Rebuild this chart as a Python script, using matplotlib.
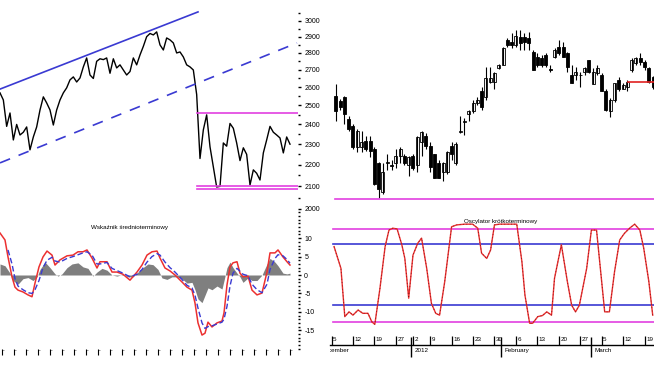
import numpy as np
import matplotlib
matplotlib.use('Agg')
import matplotlib.pyplot as plt
from matplotlib.ticker import FixedLocator, MultipleLocator, NullFormatter
from matplotlib.transforms import Bbox, TransformedBbox

plt.rcParams['font.family'] = ['Liberation Sans', 'DejaVu Sans']

# ---- left: index line chart (close, sampled every few sessions) ----
PRICE = [2569, 2530, 2390, 2460, 2321, 2400, 2346, 2360, 2387, 2272,
         2336, 2387, 2476, 2547, 2514, 2476, 2397, 2476, 2530, 2569,
         2597, 2642, 2659, 2630, 2653, 2717, 2770, 2670, 2650, 2750,
         2765, 2760, 2770, 2680, 2765, 2711, 2729, 2699, 2670, 2690,
         2770, 2729, 2788, 2840, 2900, 2920, 2911, 2930, 2849, 2818,
         2892, 2880, 2861, 2800, 2806, 2776, 2729, 2717, 2699, 2560,
         2230, 2372, 2450, 2287, 2190, 2097, 2100, 2306, 2290, 2405,
         2380, 2306, 2220, 2282, 2250, 2106, 2176, 2160, 2129, 2257,
         2321, 2390, 2360, 2346, 2331, 2257, 2336, 2300]
CHANNEL_UP_DAY = [0, 198]
CHANNEL_UP = [2590, 3059]
CHANNEL_LO_DAY = [0, 297]
CHANNEL_LO = [2209, 2861]
RANGE_DAY = [197, 298]
RANGE_TOP = 2460
RANGE_BOTTOM = [2102, 2086]
PRICE_TICKS = [2000, 2100, 2200, 2300, 2400, 2500, 2600, 2700, 2800, 2900, 3000]

# ---- left: medium-term indicator ----
MACD_DAY = [0, 5, 8, 12, 15, 18, 23, 28, 32, 35, 39, 43, 47, 52, 55, 60, 67, 73, 78, 83,
            87, 92, 97, 100, 107, 112, 117, 123, 130, 137, 142, 147, 152, 157, 160, 165, 170, 175, 182, 187,
            192, 195, 198, 202, 205, 208, 212, 217, 222, 224, 227, 230, 233, 237, 240, 243, 248, 252, 257, 262,
            267, 270, 275, 278, 283, 287, 290]
MACD = [11.4, 9.5, 4.9, -0.5, -3.3, -4.1, -4.6, -5.4, -5.9, -2.2,
        2.2, 4.9, 6.5, 5.4, 2.7, 4.1, 5.2, 5.4, 6.3, 6.3,
        6.8, 4.6, 1.9, 3.6, 3.6, 0.8, 0.8, 0.2, -1.4, 0.8,
        2.7, 5.4, 6.3, 6.5, 4.6, 1.9, 1.1, 0.0, -1.9, -3.3,
        -4.1, -7.6, -13.0, -16.3, -15.8, -12.8, -14.1, -13.0, -12.5, -10.3,
        -2.7, 2.2, 3.3, 3.6, 0.5, -0.5, -0.3, -4.1, -5.4, -4.9,
        0.8, 6.0, 6.0, 6.8, 4.9, 3.6, 2.7]
SIGNAL = [np.nan, np.nan, 6.8, 3.0, -1.0, -3.0, -4.0, -4.8, -5.0, -4.0,
          -1.5, 2.0, 4.0, 4.8, 3.8, 3.5, 4.5, 5.0, 5.5, 6.0,
          6.3, 5.4, 3.0, 3.0, 3.4, 1.8, 1.2, 0.5, -0.5, 0.2,
          1.5, 3.5, 5.0, 5.8, 5.4, 3.5, 2.0, 0.8, -1.2, -2.8,
          -3.5, -5.5, -9.0, -13.0, -14.5, -14.0, -13.8, -13.3, -12.8, -12.0,
          -8.5, -3.0, 0.5, 1.8, 1.0, 0.2, -0.2, -2.5, -4.0, -4.8,
          -2.5, 1.5, 4.5, 5.5, 5.2, 4.2, 3.2]
HIST_DAY = [0, 5, 10, 13, 18, 23, 28, 33, 37, 40, 45, 50, 55, 58, 62, 67, 72, 78, 83, 88,
            93, 97, 102, 107, 112, 117, 123, 128, 133, 138, 143, 148, 153, 158, 162, 167, 172, 177, 182, 187,
            192, 195, 198, 202, 205, 208, 212, 217, 222, 224, 227, 230, 233, 237, 240, 243, 248, 252, 257, 262,
            267, 270, 275, 278, 283, 287, 290]
HIST = [3.0, 2.5, 0.5, -1.5, -2.5, -1.0, -0.7, -1.5, -0.5, 1.5,
        3.5, 2.0, 0.3, -0.3, 0.3, 2.0, 3.0, 3.3, 2.2, 1.8,
        -0.3, 0.8, 1.8, 1.3, 0.0, -0.3, 0.2, -0.5, -0.5, 0.8,
        2.0, 3.0, 2.8, 1.5, -0.8, -1.2, -0.5, -0.5, -1.0, -2.2,
        -2.0, -4.0, -6.5, -7.5, -5.5, -3.5, -4.0, -3.0, -3.8, -1.5,
        2.0, 3.5, 2.0, 0.5, -0.5, -2.0, -0.8, -1.5, -1.5, 0.0,
        3.0, 4.5, 3.5, 2.5, 0.5, 0.3, 0.5]
IND_TICKS = [10, 5, 0, -5, -10, -15]

# ---- right: daily candles Dec 2011 - Mar 2012 ----
OPEN = [2550, 2522, 2545, 2426, 2390, 2285, 2285, 2315, 2315, 2275,
        2210, 2073, 2208, 2200, 2210, 2240, 2240, 2200, 2240, 2200,
        2310, 2340, 2290, 2250, 2210, 2164, 2164, 2290, 2210, 2360,
        2415, 2452, 2468, 2514, 2578, 2545, 2630, 2630, 2711, 2729,
        2880, 2867, 2850, 2895, 2895, 2893, 2806, 2776, 2770, 2788,
        2702, 2776, 2836, 2836, 2800, 2670, 2670, 2672, 2688, 2758,
        2617, 2683, 2670, 2578, 2468, 2530, 2642, 2590, 2600, 2700,
        2740, 2770, 2746, 2711, 2659]
HIGH = [2617, 2533, 2550, 2442, 2400, 2374, 2365, 2340, 2340, 2285,
        2212, 2210, 2250, 2225, 2275, 2285, 2250, 2240, 2250, 2340,
        2365, 2355, 2310, 2250, 2225, 2215, 2265, 2310, 2310, 2442,
        2436, 2476, 2530, 2545, 2600, 2717, 2717, 2688, 2735, 2836,
        2892, 2923, 2940, 2940, 2920, 2930, 2818, 2800, 2788, 2800,
        2729, 2830, 2880, 2867, 2806, 2729, 2717, 2688, 2717, 2758,
        2711, 2729, 2683, 2590, 2540, 2625, 2659, 2625, 2642, 2770,
        2776, 2800, 2758, 2717, 2665]
LOW = [2416, 2478, 2400, 2365, 2275, 2260, 2260, 2265, 2235, 2105,
       2050, 2064, 2176, 2176, 2186, 2210, 2200, 2146, 2176, 2164,
       2240, 2275, 2168, 2136, 2136, 2123, 2155, 2225, 2200, 2355,
       2346, 2416, 2462, 2500, 2478, 2530, 2625, 2590, 2705, 2729,
       2836, 2830, 2836, 2818, 2818, 2818, 2700, 2717, 2717, 2717,
       2690, 2770, 2788, 2776, 2688, 2625, 2642, 2600, 2670, 2683,
       2617, 2670, 2578, 2468, 2440, 2520, 2578, 2590, 2578, 2688,
       2729, 2729, 2700, 2625, 2590]
CLOSE = [2468, 2494, 2452, 2374, 2285, 2365, 2310, 2275, 2265, 2110,
         2086, 2168, 2212, 2195, 2240, 2275, 2210, 2235, 2186, 2335,
         2360, 2290, 2190, 2140, 2140, 2210, 2260, 2250, 2300, 2368,
         2418, 2470, 2516, 2530, 2490, 2653, 2653, 2683, 2729, 2830,
         2850, 2850, 2905, 2860, 2867, 2862, 2700, 2730, 2730, 2730,
         2698, 2818, 2800, 2776, 2717, 2625, 2688, 2668, 2711, 2688,
         2688, 2711, 2578, 2478, 2530, 2625, 2590, 2615, 2630, 2758,
         2770, 2746, 2717, 2630, 2600]
SUPPORT = 2043
RESIST_DAY = [68.2, 75]
RESIST = 2630

# ---- right: short-term oscillator ----
OSC_DAY = [-0.4, 1.2, 2.1, 3.1, 4.0, 5.2, 6.3, 7.5, 8.4, 9.1,
           10.3, 11.5, 12.4, 13.3, 14.3, 15.4, 16.1, 17.0, 18.0, 19.1,
           20.0, 21.2, 22.3, 23.3, 24.2, 25.4, 27.0, 28.2, 30.1, 31.9,
           33.1, 34.0, 35.2, 36.1, 37.0, 38.2, 40.1, 42.2, 43.4, 44.1,
           45.2, 45.9, 47.1, 48.2, 49.2, 50.3, 51.0, 52.6, 54.0, 55.0,
           55.9, 56.8, 58.5, 59.6, 60.8, 62.0, 62.7, 63.8, 65.0, 66.2,
           67.3, 68.5, 69.7, 70.9, 71.8, 73.0, 73.9]
OSC = [7.7, 1.8, -11.3, -10.0, -10.9, -9.5, -10.4, -10.4, -12.7, -13.4,
       -3.6, 7.7, 12.2, 12.7, 12.5, 8.2, 4.5, -6.3, 5.4, 8.6,
       10.0, 1.8, -7.7, -10.4, -10.9, -1.8, 13.1, 13.6, 13.8, 13.8,
       12.7, 5.9, 4.5, 6.8, 13.6, 13.8, 13.8, 13.8, 3.6, -5.4,
       -13.1, -13.1, -11.3, -11.0, -10.0, -10.9, -0.9, 8.2, -1.8, -8.2,
       -10.0, -8.2, 1.8, 12.2, 12.2, -1.8, -10.0, -10.0, 0.9, 9.5,
       11.3, 12.7, 13.8, 12.2, 7.3, -1.8, -10.9]
OSC_OUTER = [12.5, -12.7]
OSC_INNER = [8.3, -8.2]
DATE_POS = [-1, 4, 9, 14, 18, 22, 27, 32, 37, 42, 47, 52, 57, 62, 67, 72]
DATE_LABELS = ['5', '12', '19', '27', '2', '9', '16', '23', '30',
               '6', '13', '20', '27', '5', '12', '19']
MONTH_BOUND = [-4.5, 17.5, 38.5, 59.5]
MONTH_LABELS = ['December', '2012', 'February', 'March']

BLUE = '#3a3ad2'
MAGENTA = '#e23fe0'
RED = '#ec3030'
W, H = 654, 368

fig = plt.figure(figsize=(W / 100, H / 100), dpi=100)


def px_axes(x0, y0, x1, y1):
    ax = fig.add_axes([x0 / W, 1 - y1 / H, (x1 - x0) / W, (y1 - y0) / H])
    for s in ax.spines.values():
        s.set_visible(False)
    return ax


ax_price = px_axes(0, 5, 298, 212)
ax_ind = px_axes(0, 212, 298, 352)
ax_cndl = px_axes(330, 5, 654, 212)
ax_osc = px_axes(330, 212, 654, 345)

# price line
ax_price.set_yscale('log')
days = np.linspace(0, 290, len(PRICE))
ax_price.plot(days, PRICE, color='black', lw=1.0)
ax_price.plot(CHANNEL_UP_DAY, CHANNEL_UP, color=BLUE, lw=1.2)
ax_price.plot(CHANNEL_LO_DAY, CHANNEL_LO, color=BLUE, lw=1.2, linestyle=(0, (6.5, 5.5)))
ax_price.plot(RANGE_DAY, [RANGE_TOP] * 2, color=MAGENTA, lw=1.2)
for lvl in RANGE_BOTTOM:
    ax_price.plot(RANGE_DAY, [lvl] * 2, color=MAGENTA, lw=1.2)
ax_price.set_xlim(0, 298)
ax_price.set_ylim(1987, 3105)
ax_price.set_xticks([])
ax_price.yaxis.tick_right()
ax_price.set_yticks(PRICE_TICKS, labels=[str(t) for t in PRICE_TICKS])
ax_price.yaxis.set_minor_locator(FixedLocator([t + 50 for t in PRICE_TICKS]))
ax_price.yaxis.set_minor_formatter(NullFormatter())
ax_price.tick_params(axis='y', which='major', length=2.5, width=1, labelsize=5, pad=2)
ax_price.tick_params(axis='y', which='minor', length=1.5, width=1)

# medium-term indicator
ax_ind.fill_between(HIST_DAY, HIST, 0, color='#7f7f7f', lw=0)
ax_ind.plot(MACD_DAY, MACD, color=RED, lw=1.1)
ax_ind.plot(MACD_DAY, SIGNAL, color=BLUE, lw=1.0, linestyle=(0, (4, 2)))
ax_ind.set_xlim(0, 298)
ax_ind.set_ylim(-20.9, 17.1)
ax_ind.yaxis.tick_right()
ax_ind.set_yticks(IND_TICKS, labels=[str(t) for t in IND_TICKS])
ax_ind.yaxis.set_minor_locator(MultipleLocator(1))
ax_ind.tick_params(axis='y', which='major', length=2.5, width=1, labelsize=5, pad=2)
ax_ind.tick_params(axis='y', which='minor', length=1.5, width=1)
xt = list(range(2, 296, 12))
ax_ind.set_xticks(xt, labels=['--'] * len(xt))
ax_ind.tick_params(axis='x', direction='inout', length=5, width=0.8, labelsize=4, pad=-5)
for lab in ax_ind.get_xticklabels():
    lab.set_horizontalalignment('left')
ax_ind.text(0.433, 0.886, 'Wskaźnik średnioterminowy', transform=ax_ind.transAxes,
            ha='center', va='center', fontsize=4.5)

# candles
ax_cndl.set_yscale('log')
idx = np.arange(len(OPEN))
o = np.array(OPEN)
c = np.array(CLOSE)
ax_cndl.vlines(idx, LOW, HIGH, color='black', lw=0.8)
down = c < o
ax_cndl.bar(idx[down], (o - c)[down], bottom=c[down], width=0.7,
            color='black', edgecolor='black', lw=0.6)
ax_cndl.bar(idx[~down], np.maximum((c - o)[~down], 2), bottom=o[~down], width=0.7,
            color='white', edgecolor='black', lw=0.6)
ax_cndl.axhline(SUPPORT, color=MAGENTA, lw=1.2, xmin=0.015)
ax_cndl.plot(RESIST_DAY, [RESIST] * 2, color='#e02020', lw=1.2)
ax_cndl.set_xlim(-1.35, 74.2)
ax_cndl.set_ylim(1987, 3105)
ax_cndl.set_xticks([])
ax_cndl.set_yticks([])
ax_cndl.yaxis.set_minor_locator(FixedLocator([]))

# oscillator
for lvl in OSC_OUTER:
    ax_osc.axhline(lvl, color=MAGENTA, lw=1.2, xmin=0.01)
for lvl in OSC_INNER:
    ax_osc.axhline(lvl, color=BLUE, lw=1.2, xmin=0.01)
ax_osc.plot(OSC_DAY, OSC, color=RED, lw=1.0)
ax_osc.plot(OSC_DAY, OSC, color='#7a1a1a', lw=0.6, linestyle=(0, (1, 3)))
ax_osc.set_xlim(-1.35, 74.2)
ax_osc.set_ylim(-19.0, 17.1)
ax_osc.set_yticks([])
ax_osc.spines['bottom'].set_visible(True)
ax_osc.spines['bottom'].set_linewidth(1.0)
ax_osc.set_xticks(DATE_POS, labels=[''] * len(DATE_POS))
ax_osc.tick_params(axis='x', direction='in', length=6.5, width=0.9)
xform = ax_osc.get_xaxis_transform()
for pos, lab in zip(DATE_POS, DATE_LABELS):
    ax_osc.text(pos + 0.35, 0.04, lab, transform=xform, ha='left', va='center', fontsize=4.5)
# month row sits below the axis line; clip at the left edge of the panel
clip = TransformedBbox(Bbox([[330 / W, 0], [1, 1]]), fig.transFigure)
x_left = ax_osc.get_xlim()[0]
for pos, lab in zip(MONTH_BOUND, MONTH_LABELS):
    if pos > x_left:
        ax_osc.vlines(pos, -0.09, 0.06, transform=xform, color='black', lw=1.0, clip_on=False)
    fig.text(pos + 0.9, -0.04, lab, transform=xform, ha='left', va='center',
             fontsize=4.5, clip_on=True, clip_box=clip)
ax_osc.text(0.528, 0.932, 'Oscylator krótkoterminowy', transform=ax_osc.transAxes,
            ha='center', va='center', fontsize=4.5)

fig.savefig('out.png', dpi=100)
